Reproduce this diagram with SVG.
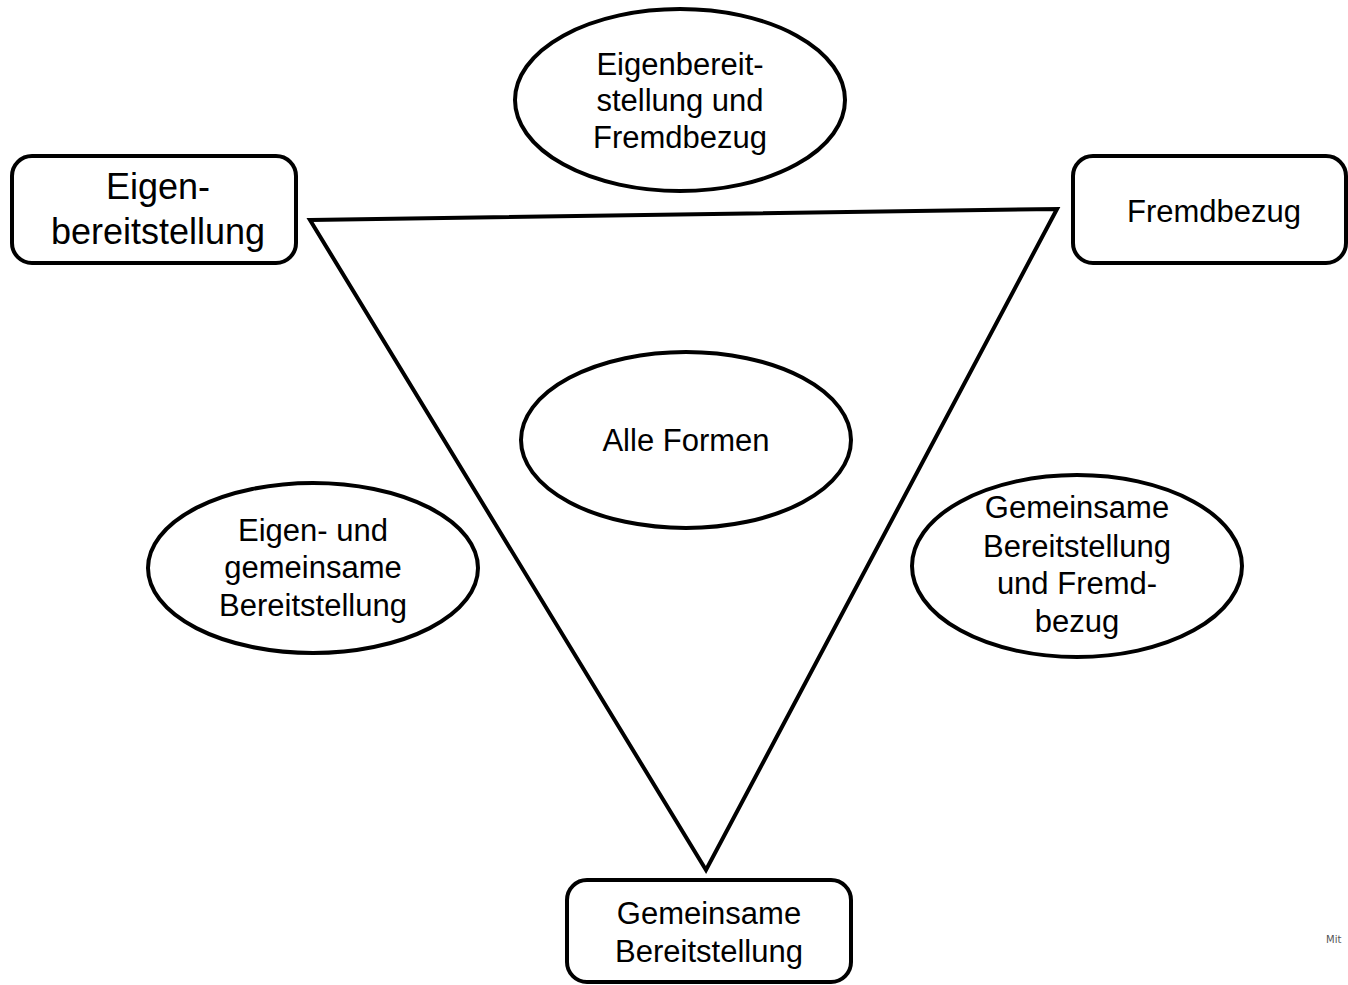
<svg xmlns="http://www.w3.org/2000/svg" width="1348" height="985" viewBox="0 0 1348 985">
<style>
.shape{fill:#fff;stroke:#000;stroke-width:4}
.t{font-family:"Liberation Sans",Arial,sans-serif;font-size:31px;fill:#000;text-anchor:middle}
.big{font-size:36px}
.line{fill:none;stroke:#000;stroke-width:4;stroke-linejoin:miter}
</style>
<rect width="1348" height="985" fill="#fff"/>
<g id="connectors">
<polygon class="line" points="310,220 1057,209 706,870"/>
</g>
<g id="eigenbereitstellung">
<rect class="shape" x="12" y="156" width="284" height="107" rx="20"/>
<text class="t big" x="158" y="199">Eigen-</text>
<text class="t big" x="158" y="244">bereitstellung</text>
</g>
<g id="fremdbezug">
<rect class="shape" x="1073" y="156" width="273" height="107" rx="20"/>
<text class="t" x="1214" y="222">Fremdbezug</text>
</g>
<g id="gemeinsame">
<rect class="shape" x="567" y="880" width="284" height="102" rx="20"/>
<text class="t" x="709" y="924">Gemeinsame</text>
<text class="t" x="709" y="962">Bereitstellung</text>
</g>
<g id="eigen-fremd">
<ellipse class="shape" cx="680" cy="100" rx="165" ry="91"/>
<text class="t" x="680" y="75">Eigenbereit-</text>
<text class="t" x="680" y="111">stellung und</text>
<text class="t" x="680" y="148">Fremdbezug</text>
</g>
<g id="alle">
<ellipse class="shape" cx="686" cy="440" rx="165" ry="88"/>
<text class="t" x="686" y="451">Alle Formen</text>
</g>
<g id="eigen-gemeinsam">
<ellipse class="shape" cx="313" cy="568" rx="165" ry="85"/>
<text class="t" x="313" y="541">Eigen- und</text>
<text class="t" x="313" y="578">gemeinsame</text>
<text class="t" x="313" y="616">Bereitstellung</text>
</g>
<g id="gemeinsam-fremd">
<ellipse class="shape" cx="1077" cy="566" rx="165" ry="91"/>
<text class="t" x="1077" y="518">Gemeinsame</text>
<text class="t" x="1077" y="557">Bereitstellung</text>
<text class="t" x="1077" y="594">und Fremd-</text>
<text class="t" x="1077" y="632">bezug</text>
</g>
<text x="1326" y="943" style="font-family:'DejaVu Sans',sans-serif;font-size:10px;fill:#555">Mit</text>
</svg>
